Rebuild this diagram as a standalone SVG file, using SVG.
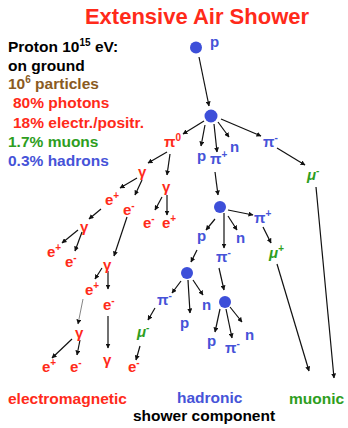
<svg xmlns="http://www.w3.org/2000/svg" width="348" height="428" viewBox="0 0 348 428">
<style>
text{font-family:"Liberation Sans",Arial,sans-serif;font-weight:bold}
.t{font-size:15.5px}
.l{font-size:15px}
.r{fill:#ff2a1a}.b{fill:#4653d8}.g{fill:#2e9e1e}.k{fill:#000}.br{fill:#8a5a22}
.sup{font-size:10px}
.mu{font-style:italic}
circle{fill:#3d4fd9}
.c line{stroke:#111;stroke-width:1.2;marker-end:url(#ah)}
.c line.thin{stroke:#666;stroke-width:0.8}
</style>
<defs>
<marker id="ah" viewBox="0 0 10 10" refX="9" refY="5" markerWidth="5" markerHeight="5" orient="auto" markerUnits="userSpaceOnUse">
<path d="M0,0 L10,5 L0,10 z" fill="#111"/>
</marker>
</defs>
<text x="197" y="24" text-anchor="middle" class="r" font-size="22">Extensive Air Shower</text>
<g id="legend" class="t">
<text x="8" y="52" class="k">Proton 10<tspan class="sup" dy="-6">15</tspan><tspan dy="6"> eV:</tspan></text>
<text x="8" y="70.5" class="k">on ground</text>
<text x="8" y="89" class="br">10<tspan class="sup" dy="-6">6</tspan><tspan dy="6"> particles</tspan></text>
<text x="13" y="108" class="r">80% photons</text>
<text x="13" y="127.5" class="r">18% electr./positr.</text>
<text x="8" y="146.5" class="g">1.7% muons</text>
<text x="8" y="166" class="b">0.3% hadrons</text>
</g>
<g id="connectors" class="c">
<line x1="199" y1="57" x2="209" y2="106"/>
<line x1="204" y1="121" x2="183" y2="134"/>
<line x1="205" y1="125" x2="201" y2="146"/>
<line x1="214" y1="124" x2="217" y2="152"/>
<line x1="218" y1="122" x2="229" y2="137"/>
<line x1="221" y1="119" x2="261" y2="136"/>
<line x1="277" y1="148" x2="305" y2="165"/>
<line x1="316" y1="187" x2="334" y2="378"/>
<line x1="215" y1="172" x2="218" y2="195"/>
<line x1="228" y1="210" x2="253" y2="215"/>
<line x1="263" y1="227" x2="271" y2="243"/>
<line x1="277" y1="264" x2="309" y2="371"/>
<line x1="215" y1="219" x2="206" y2="230"/>
<line x1="224" y1="213" x2="224" y2="248"/>
<line x1="228" y1="216" x2="237" y2="230"/>
<line x1="197" y1="250" x2="191" y2="262"/>
<line x1="219" y1="268" x2="224" y2="290"/>
<line x1="181" y1="281" x2="172" y2="293"/>
<line x1="188" y1="280" x2="190" y2="313"/>
<line x1="193" y1="280" x2="203" y2="295"/>
<line x1="155" y1="308" x2="148" y2="320"/>
<line x1="140" y1="346" x2="136" y2="360"/>
<line x1="220" y1="309" x2="215" y2="332"/>
<line x1="226" y1="309" x2="232" y2="338"/>
<line x1="230" y1="307" x2="242" y2="322"/>
<line x1="167" y1="152" x2="148" y2="163"/>
<line x1="170" y1="154" x2="167" y2="175"/>
<line x1="137" y1="178" x2="120" y2="188"/>
<line x1="142" y1="180" x2="135" y2="195"/>
<line x1="162" y1="197" x2="155" y2="210"/>
<line x1="167" y1="195" x2="167" y2="215"/>
<line x1="101" y1="209" x2="89" y2="219"/>
<line x1="78" y1="230" x2="62" y2="243"/>
<line x1="82" y1="232" x2="75" y2="251"/>
<line x1="127" y1="217" x2="114" y2="256"/>
<line x1="102" y1="268" x2="95" y2="279"/>
<line x1="108" y1="271" x2="108" y2="289"/>
<line class="thin" x1="83" y1="299" x2="78" y2="324"/>
<line x1="108" y1="316" x2="108" y2="348"/>
<line x1="72" y1="339" x2="52" y2="358"/>
<line x1="80" y1="340" x2="77" y2="355"/>
</g>
<g id="n1"><circle cx="196" cy="47.5" r="6"/></g>
<g id="n2"><circle cx="211" cy="116" r="6.5"/></g>
<g id="n3"><circle cx="220" cy="207" r="6"/></g>
<g id="n4"><circle cx="187" cy="273" r="6"/></g>
<g id="n5"><circle cx="225" cy="302" r="6"/></g>
<g class="l">
<g id="p0"><text x="210" y="47" class="b">p</text></g>
<g id="pi0"><text x="164" y="147" class="r">π<tspan class="sup" dy="-6">0</tspan></text></g>
<g id="p1"><text x="197" y="161" class="b">p</text></g>
<g id="pip1"><text x="210" y="164" class="b">π<tspan class="sup" dy="-6">+</tspan></text></g>
<g id="n_1"><text x="230" y="152" class="b">n</text></g>
<g id="pim1"><text x="263" y="147" class="b">π<tspan class="sup" dy="-6">-</tspan></text></g>
<g id="mum1"><text x="307" y="180" class="g mu">μ<tspan class="sup" dy="-6">-</tspan></text></g>
<g id="pip2"><text x="254" y="223" class="b">π<tspan class="sup" dy="-6">+</tspan></text></g>
<g id="mup1"><text x="269" y="258" class="g mu">μ<tspan class="sup" dy="-6">+</tspan></text></g>
<g id="p2"><text x="197" y="241" class="b">p</text></g>
<g id="pim2"><text x="216" y="262" class="b">π<tspan class="sup" dy="-6">-</tspan></text></g>
<g id="n_2"><text x="236" y="243" class="b">n</text></g>
<g id="pim3"><text x="157" y="305" class="b">π<tspan class="sup" dy="-6">-</tspan></text></g>
<g id="p3"><text x="180" y="328" class="b">p</text></g>
<g id="n_3"><text x="202" y="310" class="b">n</text></g>
<g id="mum2"><text x="137" y="337" class="g mu">μ<tspan class="sup" dy="-6">-</tspan></text></g>
<g id="em_e1"><text x="128" y="372" class="r">e<tspan class="sup" dy="-6">-</tspan></text></g>
<g id="p4"><text x="207" y="346" class="b">p</text></g>
<g id="pim4"><text x="225" y="353" class="b">π<tspan class="sup" dy="-6">-</tspan></text></g>
<g id="n_4"><text x="245" y="340" class="b">n</text></g>
<g id="g1"><text x="138" y="177" class="r">γ</text></g>
<g id="g2"><text x="162" y="192" class="r">γ</text></g>
<g id="ep1"><text x="105" y="205" class="r">e<tspan class="sup" dy="-6">+</tspan></text></g>
<g id="em1"><text x="123" y="215" class="r">e<tspan class="sup" dy="-6">-</tspan></text></g>
<g id="em2"><text x="143" y="228" class="r">e<tspan class="sup" dy="-6">-</tspan></text></g>
<g id="ep2"><text x="162" y="228" class="r">e<tspan class="sup" dy="-6">+</tspan></text></g>
<g id="g3"><text x="80" y="232" class="r">γ</text></g>
<g id="ep3"><text x="47" y="257" class="r">e<tspan class="sup" dy="-6">+</tspan></text></g>
<g id="em3"><text x="65" y="267" class="r">e<tspan class="sup" dy="-6">-</tspan></text></g>
<g id="g4"><text x="103" y="270" class="r">γ</text></g>
<g id="ep4"><text x="85" y="295" class="r">e<tspan class="sup" dy="-6">+</tspan></text></g>
<g id="em4"><text x="103" y="310" class="r">e<tspan class="sup" dy="-6">-</tspan></text></g>
<g id="g5"><text x="75" y="338" class="r">γ</text></g>
<g id="g6"><text x="103" y="365" class="r">γ</text></g>
<g id="ep5"><text x="42" y="372" class="r">e<tspan class="sup" dy="-6">+</tspan></text></g>
<g id="em5"><text x="70" y="372" class="r">e<tspan class="sup" dy="-6">-</tspan></text></g>
</g>
<g id="footer" class="t">
<text x="8" y="404" class="r">electromagnetic</text>
<text x="177" y="403" class="b">hadronic</text>
<text x="289" y="404" class="g">muonic</text>
<text x="133" y="421" class="k">shower component</text>
</g>
</svg>
